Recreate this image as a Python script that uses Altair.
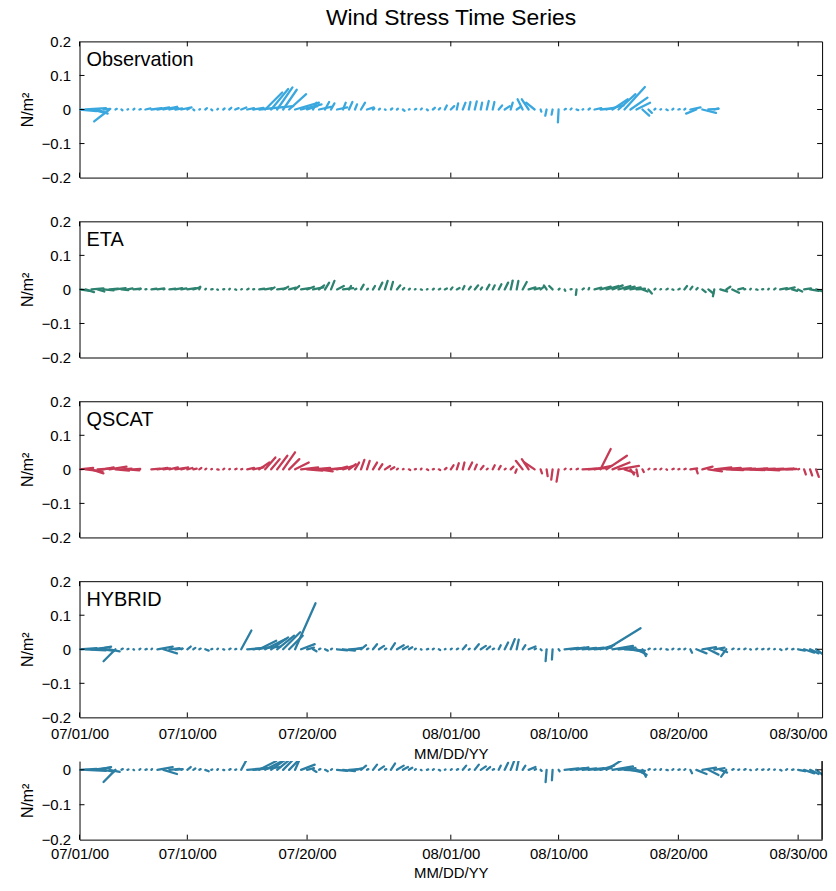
import altair as alt
import pandas as pd

# Sample grid: one stick every 12 hours starting 2000-07-01 00:00 UTC
START = pd.Timestamp("2000-07-01T00:00:00Z")
STEP_HOURS = 12
N_SAMPLES = 124

# Observation (buoy) wind stress components, N/m^2 (record ends 08/23)
OBS_U = [0.05, 0.06, 0.04, 0.03, 0.02, -0.045, 0.004, 0.003, 0.002, 0.003,
         0.004, 0.015, 0.03, 0.035, 0.04, 0.025, 0.02, 0.03, 0.006, 0.003,
         0.002, 0.005, 0.003, 0.002, 0.004, 0.006, 0.01, 0.015, 0.02, 0.03,
         0.1, 0.05, 0.05, 0.045, 0.04, 0.05, 0.07, 0.06, 0.03, 0.01,
         0.035, 0.012, 0.01, 0.03, 0.008, 0.01, 0.006, 0.012, 0.02, 0.004,
         0.003, 0.002, 0.004, 0.003, 0.005, 0.002, 0.004, 0.003, 0.003, 0.006,
         0.004, 0.006, 0.01, 0.004, 0.008, 0.005, 0.006, 0.004, 0.006, 0.005,
         0.01, 0.015, 0.006, 0.012, -0.015, -0.02, -0.025, 0.002, -0.004, -0.003,
         -0.002, 0.004, 0.003, 0.005, 0.002, 0.004, 0.02, 0.04, 0.05, 0.045,
         0.05, 0.06, 0.05, 0.04, 0.02, 0.01, 0.003, 0.002, 0.004, 0.003,
         0.004, 0.003, 0.03, -0.03, 0.04, 0.03, 0.012, None, None, None,
         None, None, None, None, None, None, None, None, None, None,
         None, None, None, None]
OBS_V = [-0.005, 0.004, -0.01, -0.012, 0.002, -0.035, 0.002, -0.002, 0.001, 0.002,
         0.001, 0.003, 0.004, 0.006, 0.008, 0.005, 0.003, 0.006, 0.003, -0.002,
         0.001, 0.004, -0.002, 0.002, 0.003, 0.005, 0.004, 0.006, 0.004, 0.005,
         0.01, 0.05, 0.06, 0.065, 0.058, 0.045, 0.02, 0.015, 0.01, 0.02,
         0.008, 0.022, 0.018, 0.006, 0.02, 0.022, 0.015, 0.02, 0.006, 0.003,
         0.002, -0.001, 0.003, 0.002, -0.004, 0.001, 0.002, 0.003, -0.002, 0.005,
         0.004, 0.012, 0.01, 0.018, 0.02, 0.022, 0.024, 0.02, 0.025, 0.022,
         0.012, 0.01, 0.02, 0.008, 0.03, 0.03, 0.02, -0.006, -0.018, -0.015,
         -0.038, 0.002, 0.003, -0.002, 0.001, 0.003, 0.004, 0.004, 0.012, 0.03,
         0.045, 0.066, 0.035, 0.02, -0.018, -0.01, 0.002, 0.001, -0.002, 0.002,
         0.001, 0.002, 0.006, -0.012, -0.01, 0.002, 0.003, None, None, None,
         None, None, None, None, None, None, None, None, None, None,
         None, None, None, None]

# ETA model
ETA_U = [0.03, 0.025, 0.035, 0.02, 0.03, 0.025, 0.03, 0.02, 0.015, 0.02,
         0.004, 0.003, 0.015, 0.02, 0.003, 0.018, 0.02, 0.015, 0.025, 0.02,
         0.003, 0.002, 0.004, 0.002, 0.003, 0.002, 0.003, 0.002, 0.004, 0.003,
         0.015, 0.02, 0.01, 0.025, 0.015, 0.02, 0.012, 0.025, 0.02, 0.03,
         0.015, 0.012, 0.01, 0.02, 0.03, 0.006, 0.004, 0.008, 0.003, 0.006,
         0.01, 0.008, 0.006, 0.01, 0.004, 0.003, 0.002, 0.003, 0.002, 0.003,
         0.004, 0.006, 0.005, 0.008, 0.005, 0.006, 0.01, 0.004, 0.008, 0.006,
         0.008, 0.01, 0.006, 0.005, 0.012, 0.02, 0.015, 0.01, -0.008, -0.01,
         0.003, 0.002, 0.003, -0.002, 0.004, 0.002, 0.02, 0.03, 0.035, 0.03,
         0.035, 0.03, 0.03, 0.025, 0.015, 0.01, 0.003, 0.002, 0.004, 0.003,
         0.004, 0.008, 0.006, 0.004, 0.01, 0.015, -0.004, 0.02, 0.012, 0.02,
         0.015, 0.003, 0.002, 0.004, 0.003, 0.002, 0.004, 0.02, 0.025, 0.015,
         0.012, 0.02, 0.025, 0.02]
ETA_V = [-0.004, -0.008, 0.003, -0.006, -0.003, 0.002, 0.004, -0.002, 0.003, 0.002,
         0.002, 0.001, 0.002, 0.003, 0.001, 0.002, 0.004, 0.003, 0.004, 0.006,
         0.008, 0.002, 0.001, -0.001, 0.001, 0.002, -0.001, 0.001, 0.002, 0.001,
         0.002, 0.004, 0.006, 0.003, 0.008, 0.005, 0.01, 0.004, 0.008, 0.006,
         0.012, 0.02, 0.025, 0.01, 0.004, 0.01, 0.002, 0.014, 0.002, 0.01,
         0.02, 0.025, 0.022, 0.012, 0.004, 0.002, 0.001, -0.001, 0.001, 0.002,
         0.002, 0.003, 0.006, 0.004, 0.01, 0.008, 0.012, 0.006, 0.014, 0.012,
         0.015, 0.02, 0.026, 0.025, 0.022, 0.006, 0.004, 0.008, 0.012, 0.01,
         0.002, -0.004, 0.001, -0.016, 0.003, 0.004, 0.005, 0.008, 0.01, 0.012,
         0.01, 0.008, 0.006, 0.002, -0.006, -0.012, 0.002, 0.001, 0.002, -0.001,
         0.002, 0.01, 0.008, 0.004, -0.008, -0.012, -0.02, -0.006, 0.008, -0.01,
         0.004, 0.001, 0.002, -0.001, 0.001, 0.002, 0.003, 0.004, 0.006, -0.004,
         -0.006, 0.003, -0.004, -0.006]

# QuikSCAT
QS_U = [0.04, 0.05, 0.035, 0.045, 0.03, 0.05, 0.04, 0.03, 0.035, 0.02,
        None, None, 0.025, 0.03, 0.02, 0.025, 0.03, 0.02, 0.015, 0.01,
        0.006, 0.003, 0.002, 0.004, 0.003, 0.002, 0.004, 0.003, 0.02, 0.03,
        0.03, 0.03, 0.025, 0.03, 0.035, 0.03, 0.04, 0.05, 0.045, 0.05,
        0.04, 0.05, 0.045, 0.03, 0.03, 0.02, 0.012, 0.01, 0.008, 0.012,
        0.01, 0.015, 0.01, 0.003, 0.002, 0.004, 0.003, 0.002, 0.004, 0.003,
        0.004, 0.005, 0.008, 0.006, 0.005, 0.01, 0.006, 0.008, 0.003, 0.006,
        0.006, 0.003, 0.008, -0.004, -0.02, -0.02, -0.03, 0.004, 0.003, -0.004,
        -0.006, 0.003, 0.002, 0.004, 0.04, 0.05, 0.05, 0.03, 0.06, 0.05,
        0.06, 0.03, 0.01, 0.004, 0.004, 0.003, 0.004, 0.003, 0.002, 0.004,
        0.003, 0.004, 0.02, 0.004, 0.03, 0.04, 0.05, 0.06, 0.05, 0.055,
        0.05, 0.06, 0.05, 0.055, 0.05, 0.045, 0.05, 0.04, 0.03, 0.004,
        0.003, 0.005, 0.006, 0.008]
QS_V = [0.004, -0.006, -0.012, 0.003, 0.006, 0.008, -0.004, 0.002, -0.003, 0.001,
        None, None, 0.002, 0.004, 0.003, 0.006, 0.004, 0.006, 0.004, 0.002,
        0.004, 0.002, 0.001, -0.001, 0.002, 0.001, 0.002, 0.001, 0.004, 0.006,
        0.02, 0.035, 0.03, 0.04, 0.05, 0.03, 0.02, 0.006, -0.004, 0.004,
        -0.006, 0.003, 0.004, 0.008, 0.01, 0.015, 0.02, 0.028, 0.025, 0.02,
        0.015, 0.01, 0.006, 0.002, 0.001, -0.002, 0.001, 0.002, -0.002, 0.001,
        -0.002, 0.004, 0.012, 0.018, 0.02, 0.02, 0.014, 0.01, 0.002, 0.012,
        0.01, 0.002, 0.008, -0.01, 0.025, 0.03, 0.02, -0.012, -0.02, -0.03,
        -0.036, 0.002, 0.001, 0.002, 0.002, 0.004, 0.01, 0.06, 0.04, 0.02,
        0.01, -0.01, -0.015, -0.02, -0.008, 0.002, 0.001, 0.002, -0.001, 0.002,
        0.001, 0.002, 0.003, -0.012, 0.008, -0.006, 0.006, 0.004, -0.002, 0.003,
        0.002, -0.002, 0.003, 0.002, -0.003, 0.002, 0.001, 0.002, 0.001, 0.002,
        0.001, -0.015, -0.018, -0.022]

# Hybrid product
HY_U = [0.05, 0.06, 0.055, 0.04, 0.03, 0.03, -0.035, 0.004, 0.003, 0.002,
        0.003, 0.004, 0.002, 0.045, 0.04, 0.03, 0.02, 0.004, 0.01, 0.006,
        0.004, 0.01, 0.003, 0.002, 0.003, 0.004, 0.003, 0.03, 0.06, 0.08,
        0.05, 0.06, 0.05, 0.05, 0.05, 0.04, 0.06, 0.04, 0.02, 0.01,
        0.004, 0.008, 0.003, 0.03, 0.035, 0.03, 0.02, 0.015, 0.004, 0.012,
        0.015, 0.004, 0.012, 0.02, 0.015, 0.01, 0.003, 0.002, 0.004, 0.003,
        0.004, 0.002, 0.003, 0.004, 0.01, 0.003, 0.012, 0.015, 0.01, 0.004,
        0.006, 0.01, 0.012, 0.006, 0.008, 0.02, 0.004, 0.003, -0.003, -0.002,
        0.003, 0.04, 0.04, 0.035, 0.04, 0.045, 0.05, 0.04, 0.1, 0.06,
        0.05, 0.06, 0.04, 0.03, 0.01, 0.004, 0.003, 0.002, 0.004, 0.003,
        0.004, 0.003, 0.005, 0.03, 0.04, 0.03, 0.03, 0.02, -0.015, 0.004,
        0.003, 0.004, 0.002, 0.003, 0.004, 0.003, 0.002, 0.004, 0.003, 0.004,
        0.02, 0.03, 0.025, 0.02]
HY_V = [0.003, -0.003, 0.006, 0.008, -0.005, -0.006, -0.035, 0.002, 0.001, -0.001,
        0.002, 0.001, 0.002, 0.008, -0.012, 0.003, 0.002, 0.002, 0.008, 0.004,
        0.002, -0.004, 0.001, 0.002, -0.001, 0.002, 0.001, 0.055, 0.005, 0.008,
        0.025, 0.03, 0.035, 0.04, 0.05, 0.04, 0.135, 0.015, 0.005, -0.006,
        0.002, -0.004, 0.002, -0.003, -0.004, 0.002, 0.004, 0.012, 0.002, 0.015,
        0.01, 0.002, 0.018, 0.012, 0.008, 0.006, 0.002, -0.001, 0.001, 0.002,
        -0.002, 0.001, 0.002, 0.002, 0.012, 0.002, 0.015, 0.01, 0.008, 0.002,
        0.012, 0.02, 0.03, 0.028, 0.012, 0.008, 0.002, -0.003, -0.035, -0.03,
        -0.004, 0.004, 0.005, 0.006, 0.004, 0.005, 0.005, 0.012, 0.062, 0.01,
        0.005, -0.003, -0.008, -0.015, -0.02, 0.002, 0.001, 0.002, -0.001, 0.002,
        0.001, 0.002, -0.01, -0.012, 0.006, -0.015, 0.005, -0.008, -0.02, 0.002,
        0.001, 0.002, -0.001, 0.002, 0.001, 0.002, 0.001, -0.002, 0.002, 0.001,
        -0.004, -0.01, -0.012, -0.015]

PANEL_NAMES = ["Observation", "ETA", "QSCAT", "HYBRID"]
PANEL_COLORS = ["#3aa8de", "#2d8270", "#c53a55", "#2c7ea3"]

X_TICK_DATES = ["2000-07-01", "2000-07-10", "2000-07-20", "2000-08-01",
                "2000-08-10", "2000-08-20", "2000-08-30"]
Y_LABEL_VALUES = [-0.2, -0.1, 0, 0.1, 0.2]
Y_TICK_VALUES = [-0.1, 0, 0.1]

FONT = "Liberation Sans"
W = 747
H = 137
H_CROP = 79
CROP_TOP = 0.025
DOMAIN_DAYS = 62
X_DOMAIN = [alt.DateTime(year=2000, month=7, date=1, utc=True),
            alt.DateTime(year=2000, month=9, date=1, utc=True)]

# stick geometry: east component drawn with the same pixel scale as north
PX_PER_UNIT = H / 0.4
DAYS_PER_UNIT = PX_PER_UNIT * DOMAIN_DAYS / W


def stick_frame(u_list, v_list):
    t = [START + pd.Timedelta(hours=STEP_HOURS * i) for i in range(N_SAMPLES)]
    df = pd.DataFrame({"t": t, "u": u_list, "v": v_list}).dropna()
    df["t2"] = df["t"] + pd.to_timedelta(df["u"] * DAYS_PER_UNIT, unit="D")
    df["y0"] = 0.0
    fmt = "%Y-%m-%dT%H:%M:%SZ"
    df["t"] = df["t"].dt.strftime(fmt)
    df["t2"] = df["t2"].dt.strftime(fmt)
    return df


def panel(name, u_list, v_list, color, height, y_domain, y_labels, y_ticks,
          x_labels, framed, show_name, label_pad, title_pad):
    xs = alt.Scale(type="utc", domain=X_DOMAIN)
    ys = alt.Scale(domain=y_domain, nice=False, zero=False)
    if x_labels:
        xaxis = alt.Axis(values=[alt.DateTime(year=int(d[:4]), month=int(d[5:7]),
                                              date=int(d[8:10]), utc=True)
                                 for d in X_TICK_DATES],
                         format="%m/%d/%y", ticks=False, domain=not framed,
                         grid=False, labelFontSize=15, labelPadding=label_pad,
                         labelFlush=False, title="MM/DD/YY", titleFontSize=15,
                         titleFontWeight="normal", titlePadding=title_pad)
    else:
        xaxis = None
    yaxis = alt.Axis(values=y_labels, format=".1~f", ticks=False,
                     domain=not framed, grid=False, labelFontSize=15,
                     labelPadding=9, title="N/m²", titleFontSize=16,
                     titleFontWeight="normal", titlePadding=6)

    df = stick_frame(u_list, v_list)
    sticks = alt.Chart(df).mark_rule(
        strokeWidth=2.3, strokeCap="round", color=color, clip=True
    ).encode(
        x=alt.X("t:T", scale=xs, axis=xaxis),
        x2="t2:T",
        y=alt.Y("y0:Q", scale=ys, axis=yaxis),
        y2="v:Q",
    )

    ytk = pd.DataFrame({"yv": y_ticks})
    xtk = pd.DataFrame({"t": [d + "T00:00:00Z" for d in X_TICK_DATES]})
    tick_style = dict(color="black", strokeWidth=1)
    left_ticks = alt.Chart(ytk).mark_rule(**tick_style).encode(
        y=alt.Y("yv:Q", scale=ys, axis=yaxis), x=alt.value(0), x2=alt.value(5))
    right_ticks = alt.Chart(ytk).mark_rule(**tick_style).encode(
        y=alt.Y("yv:Q", scale=ys, axis=yaxis), x=alt.value(W - 5), x2=alt.value(W))
    bottom_ticks = alt.Chart(xtk).mark_rule(**tick_style).encode(
        x=alt.X("t:T", scale=xs, axis=xaxis),
        y=alt.value(height - 5), y2=alt.value(height))
    layers = [sticks, left_ticks, right_ticks, bottom_ticks]
    if framed:
        top_ticks = alt.Chart(xtk).mark_rule(**tick_style).encode(
            x=alt.X("t:T", scale=xs, axis=xaxis), y=alt.value(0), y2=alt.value(5))
        layers.append(top_ticks)
    else:
        right_edge = alt.Chart(ytk).mark_rule(color="black", strokeWidth=1).encode(
            x=alt.value(W), y=alt.value(0), y2=alt.value(height))
        layers.append(right_edge)
    if show_name:
        label = alt.Chart(pd.DataFrame({"name": [name]})).mark_text(
            align="left", baseline="middle", fontSize=20, font=FONT, color="black"
        ).encode(text="name:N", x=alt.value(7), y=alt.value(19))
        layers.append(label)

    chart = alt.layer(*layers).properties(width=W, height=height)
    if not framed:
        chart = chart.properties(view=alt.ViewBackground(stroke=None))
    return chart


series = [(OBS_U, OBS_V), (ETA_U, ETA_V), (QS_U, QS_V), (HY_U, HY_V)]
panels = []
for k, (name, color, (u, v)) in enumerate(zip(PANEL_NAMES, PANEL_COLORS, series)):
    panels.append(panel(name, u, v, color, H, [-0.2, 0.2], Y_LABEL_VALUES,
                        Y_TICK_VALUES, x_labels=(k == 3), framed=True,
                        show_name=True, label_pad=9, title_pad=5))

# lower strip: the hybrid series again, showing the band below +0.025
panels.append(panel("HYBRID", HY_U, HY_V, PANEL_COLORS[3], H_CROP,
                    [-0.2, CROP_TOP], [-0.2, -0.1, 0],
                    [-0.1, 0], x_labels=True, framed=False, show_name=False,
                    label_pad=7, title_pad=4))

chart = alt.vconcat(*panels, spacing=44, bounds="flush").properties(
    title=alt.TitleParams("Wind Stress Time Series", fontSize=23,
                          fontWeight="normal", font=FONT, color="black",
                          anchor="middle", offset=4, dx=28),
    padding={"left": 18, "top": 4, "right": 8, "bottom": 5},
    background="white",
).configure_axis(
    labelFont=FONT, titleFont=FONT, labelColor="black", titleColor="black",
    domainColor="black"
).configure_view(stroke="black", strokeWidth=1)

chart.save("out.html", embed_options={"renderer": "svg", "actions": False})
